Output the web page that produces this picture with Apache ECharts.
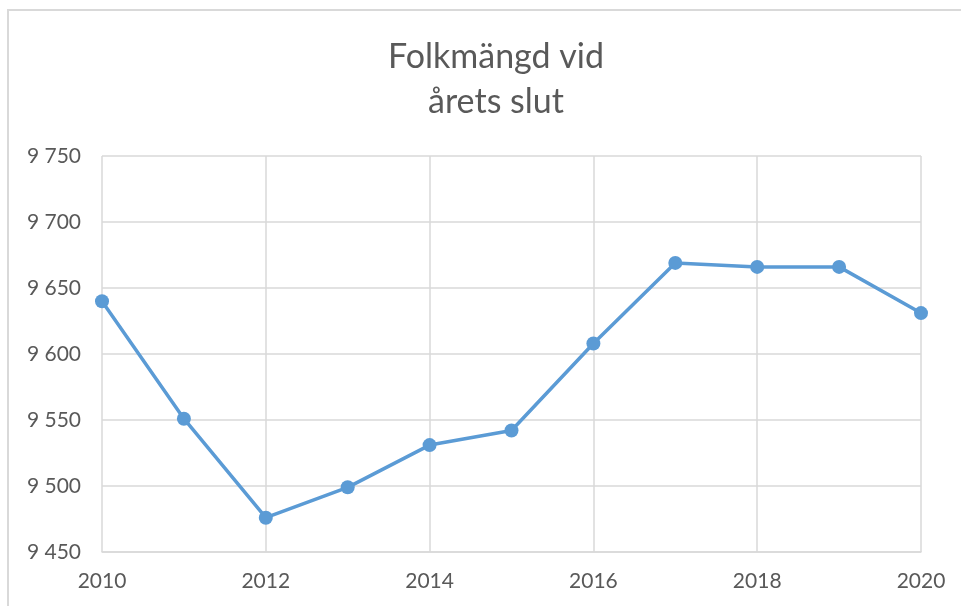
<!DOCTYPE html>
<html>
<head>
<meta charset="utf-8">
<script src="https://cdn.jsdelivr.net/npm/echarts@6/dist/echarts.min.js"></script>
<style>html,body{margin:0;padding:0;background:#fff;}#c{width:961px;height:606px;}</style>
</head>
<body>
<div id="c"></div>
<script>
const titleText = "Folkmängd vid\nårets slut";
const years = [2010, 2011, 2012, 2013, 2014, 2015, 2016, 2017, 2018, 2019, 2020];
const population = [9640, 9551, 9476, 9499, 9531, 9542, 9608, 9669, 9666, 9666, 9631];
const yMin = 9450, yMax = 9750, yStep = 50;
const xMin = 2010, xMax = 2020, xStep = 2;

const chart = echarts.init(document.getElementById('c'), null, {renderer: 'canvas'});
const font = 'Lato, "Liberation Sans", sans-serif';
chart.setOption({
  animation: false,
  backgroundColor: '#fff',
  graphic: [{
    type: 'rect',
    shape: {x: 8, y: 10, width: 1000, height: 800},
    style: {fill: 'none', stroke: '#d9d9d9', lineWidth: 2},
    silent: true, z: -10
  }],
  title: {
    text: titleText,
    left: 491, top: 30, textAlign: 'center',
    textStyle: {fontFamily: font, fontSize: 34, fontWeight: 'normal', color: '#595959', lineHeight: 45}
  },
  grid: {left: 102, right: 40, top: 156, bottom: 54, containLabel: false},
  xAxis: {
    type: 'value', min: xMin, max: xMax, interval: xStep,
    axisLine: {show: true, lineStyle: {color: '#d9d9d9', width: 1.5}},
    axisTick: {show: false},
    splitLine: {show: true, lineStyle: {color: '#d9d9d9', width: 1.5}},
    axisLabel: {color: '#595959', fontFamily: font, fontSize: 21, margin: 19, formatter: v => String(v)}
  },
  yAxis: {
    type: 'value', min: yMin, max: yMax, interval: yStep,
    axisLine: {show: false}, axisTick: {show: false},
    splitLine: {show: true, lineStyle: {color: '#d9d9d9', width: 1.5}},
    axisLabel: {color: '#595959', fontFamily: font, fontSize: 21, margin: 21,
      formatter: v => String(v).replace(/\B(?=(\d{3})+(?!\d))/g, ' ')}
  },
  series: [{
    type: 'line',
    data: years.map((y, i) => [y, population[i]]),
    symbol: 'circle', symbolSize: 14,
    lineStyle: {color: '#5b9bd5', width: 3.5},
    itemStyle: {color: '#5b9bd5'}
  }]
});
</script>
</body>
</html>
